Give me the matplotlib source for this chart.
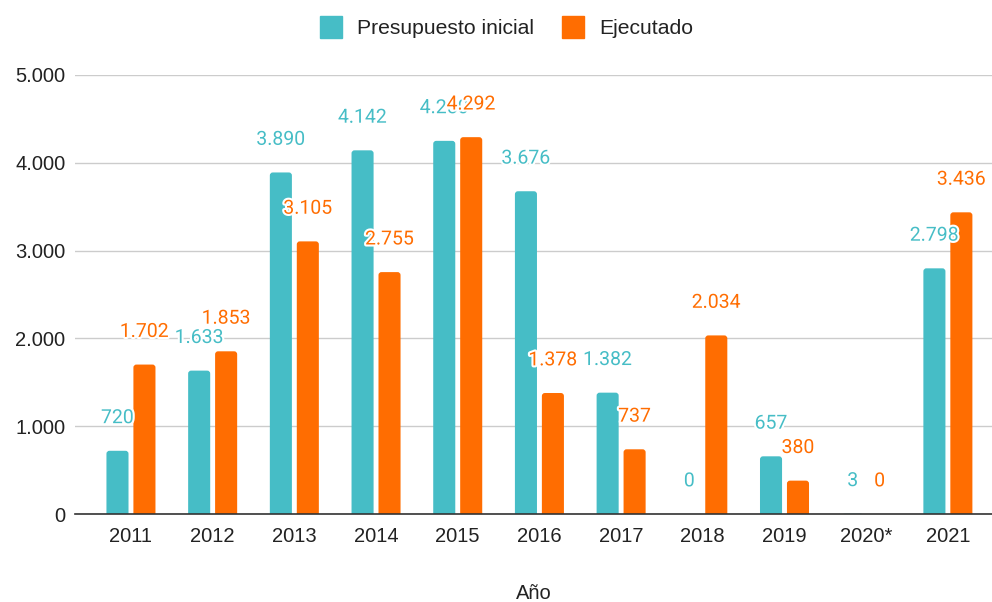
import matplotlib
matplotlib.use("Agg")
import matplotlib.pyplot as plt
import matplotlib.patheffects as pe
from matplotlib.lines import Line2D
from matplotlib.patches import FancyBboxPatch
import numpy as np

years = ["2011", "2012", "2013", "2014", "2015", "2016", "2017", "2018", "2019", "2020*", "2021"]
presupuesto = [720, 1633, 3890, 4142, 4250, 3676, 1382, 0, 657, 3, 2798]
ejecutado = [1702, 1853, 3105, 2755, 4292, 1378, 737, 2034, 380, 0, 3436]
yticks = [0, 1000, 2000, 3000, 4000, 5000]

C_TEAL = "#46BDC6"
C_ORANGE = "#FF6D01"
TXT = "#222222"
SANS = ['Liberation Sans', 'DejaVu Sans']

plt.rcParams['font.family'] = ['Roboto', 'DejaVu Sans']

fig = plt.figure(figsize=(9.92, 6.02), dpi=100)
ax = fig.add_axes([75/992, 1-514/602, 917/992, (514-75)/602])
ax.set_xlim(-0.685, 10.54)
ax.set_ylim(0, 5000)

x = np.arange(len(years))
w = 0.27
off = 0.165

# rounding of bar tops (about 3 px)
px_per_x = 917 / (10.54 + 0.685)
px_per_y = 439 / 5000
r_x = 3.0 / px_per_x
aspect = px_per_x / px_per_y
r_y = r_x * aspect

def draw_bars(xs, vals, col):
    bars = ax.bar(xs, vals, w, color=col, zorder=3, visible=False)
    for rect in bars:
        h = rect.get_height()
        p = FancyBboxPatch((rect.get_x(), -r_y), rect.get_width(), h + r_y,
                           boxstyle=f"round,pad=0,rounding_size={r_x}",
                           mutation_aspect=aspect, facecolor=col,
                           edgecolor="none", zorder=3, clip_on=True)
        ax.add_patch(p)
    return bars

b1 = draw_bars(x - off, presupuesto, C_TEAL)
b2 = draw_bars(x + off, ejecutado, C_ORANGE)

def fmt(v):
    return f"{v:,}".replace(",", ".")

halo = [pe.withStroke(linewidth=3, foreground="white")]
for bars, vals, col in ((b1, presupuesto, C_TEAL), (b2, ejecutado, C_ORANGE)):
    for rect, v in zip(bars, vals):
        ax.annotate(fmt(v), (rect.get_x() + rect.get_width()/2, v),
                    xytext=(0, 23.5), textcoords="offset points",
                    ha="center", va="center", fontsize=14, color=col,
                    path_effects=halo, zorder=5)

ax.set_yticks(yticks)
ax.set_yticklabels([fmt(t) for t in yticks], fontsize=14.5, color=TXT, family=SANS)
ax.set_xticks(x)
ax.set_xticklabels(years, fontsize=14.5, color=TXT, family=SANS)
ax.tick_params(axis="x", length=0, pad=9)
ax.tick_params(axis="y", length=0, pad=7)
ax.grid(axis="y", color="#cccccc", linewidth=1, zorder=0)
for s in ["top", "right", "left"]:
    ax.spines[s].set_visible(False)
ax.spines["bottom"].set_color("#333333")
ax.spines["bottom"].set_linewidth(1.2)
ax.spines["bottom"].set_zorder(4)

ax.set_xlabel("Año", fontsize=14.5, color=TXT, labelpad=28, family=SANS)

handles = [Line2D([], [], marker="s", linestyle="", markersize=16, color=C_TEAL),
           Line2D([], [], marker="s", linestyle="", markersize=16, color=C_ORANGE)]
fig.legend(handles, ["Presupuesto inicial", "Ejecutado"], loc="center",
           bbox_to_anchor=(507/992, 1-29/602), ncol=2, frameon=False,
           prop={'family': SANS, 'size': 15.2}, handletextpad=0.72,
           columnspacing=1.35, labelcolor=TXT, handlelength=1.0)

fig.savefig("out.png", dpi=100, facecolor="white")
